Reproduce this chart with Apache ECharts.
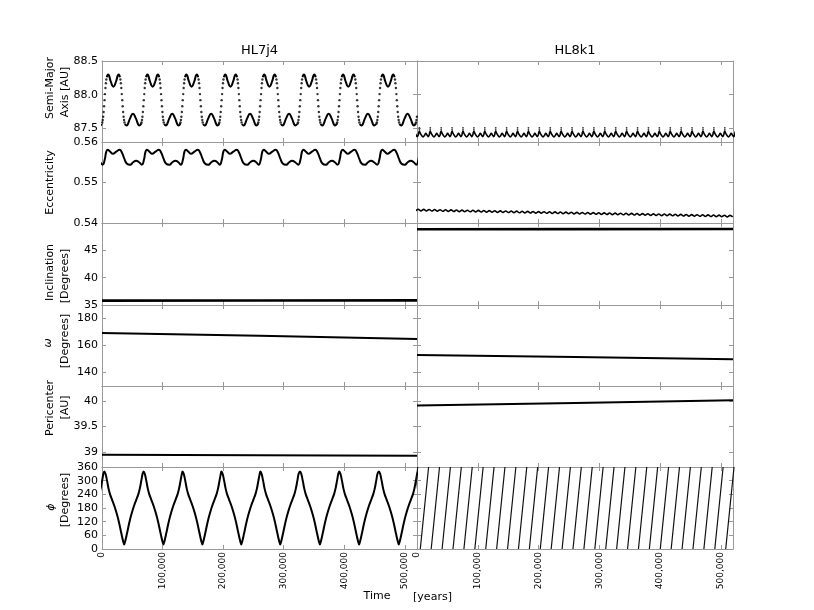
<!DOCTYPE html>
<html><head><meta charset="utf-8">
<script src="https://cdn.jsdelivr.net/npm/echarts@6/dist/echarts.min.js"></script>
<style>html,body{margin:0;padding:0;background:#fff}#c{width:814px;height:610px}</style>
</head><body><div id="c"></div>
<script>
// ================= DATA =================
const panelTitles = ['HL7j4', 'HL8k1'];
const xTicks = [0, 100000, 200000, 300000, 400000, 500000];
const xMax = 520000;

// y tick values per row
const ticksA = [87.5, 88.0, 88.5];
const ticksE = [0.54, 0.55, 0.56];
const ticksI = [35, 40, 45, 50];
const labelsI = [35, 40, 45];
const ticksW = [140, 160, 180];
const ticksQ = [39, 39.5, 40];
const ticksP = [0, 60, 120, 180, 240, 300, 360];

// HL7j4: libration cycles, times of the phi maxima (years)
const cycleL = [-60900, 3800, 68600, 132900, 197100, 261400, 326900, 391600, 457100, 521700];
// HL8k1: circulation cycles, times where phi restarts from 0 (years)
const cycleR = [-12550, 5400, 23350, 41300, 59250, 77200, 95150, 113100, 131050, 149000, 166950,
  184900, 202850, 220800, 238750, 256700, 274650, 292600, 310550, 328500, 346450, 364400,
  382350, 400300, 418250, 436200, 454150, 472100, 490050, 508000, 525950];

// HL7j4 semi-major axis within one cycle (offset from cycle time, value AU)
const aDotsUpOff = [-4100, -3350, -2600, -1850, -1100, -350, 400, 1150, 1900, 2650, 3400];
const aDotsUpVal = [87.57, 87.59, 87.625, 87.675, 87.745, 87.83, 87.92, 88.01, 88.10, 88.17, 88.225];
const aUpperOff = [4150, 5300, 6500, 8000, 10500, 15000, 19500, 22000, 23500, 24700, 25850];
const aUpperVal = [88.26, 88.29, 88.30, 88.28, 88.20, 88.12, 88.20, 88.28, 88.30, 88.29, 88.26];
const aDotsDownOff = [26600, 27350, 28100, 28850, 29600, 30350, 31100, 31850, 32600, 33350];
const aDotsDownVal = [88.225, 88.17, 88.10, 88.01, 87.92, 87.83, 87.745, 87.675, 87.625, 87.59];
const aLowerOff = [34100, 35400, 37000, 39200, 42500, 47300, 52100, 55400, 57600, 59200, 60400];
const aLowerVal = [87.57, 87.552, 87.545, 87.57, 87.65, 87.72, 87.65, 87.57, 87.545, 87.552, 87.565];

// HL7j4 eccentricity within one cycle
const eLOff = [-2850, 750, 3050, 5400, 9800, 14200, 19700, 25200, 29000, 33000, 37000, 42700, 47500, 52600, 57500];
const eLVal = [0.5544, 0.5557, 0.5575, 0.5581, 0.5576, 0.5571, 0.5576, 0.5581, 0.5574, 0.5559, 0.5547, 0.5544, 0.5550, 0.5554, 0.5550];

// HL7j4 resonant angle phi within one cycle
const phiLOff = [0, 2000, 4500, 7000, 9500, 13000, 16500, 20000, 24000, 28000, 31000, 32800,
  34600, 37600, 41600, 45600, 49100, 52600, 56100, 58600, 61100, 63200];
const phiLVal = [340, 330, 300, 265, 240, 215, 190, 160, 120, 70, 35, 20,
  35, 70, 120, 160, 190, 215, 240, 265, 300, 330];

// HL8k1 semi-major axis within one circulation cycle (offset from cycleR)
const aROff = [-2700, -1500, -300, 2000, 4500, 7000, 9000, 11000, 13000, 14900];
const aRVal = [87.435, 87.46, 87.435, 87.40, 87.375, 87.40, 87.43, 87.405, 87.38, 87.41];
const aRDotOff = -1500;
const aRDotVal = [87.48, 87.51];

// HL8k1 phi: rise from 0 to 360 takes this long (years)
const phiRSpan = 13700;

// HL8k1 eccentricity: wiggle maxima (time, value) and depth of the minima between them
const eRPeakT = [-7000, 2000, 11000, 20000, 29000, 38000, 47000, 56000, 65000, 74000, 83000, 92000,
  101000, 110000, 119000, 128000, 137000, 146000, 155000, 164000, 173000, 182000, 191000, 200000,
  209000, 218000, 227000, 236000, 245000, 254000, 263000, 272000, 281000, 290000, 299000, 308000,
  317000, 326000, 335000, 344000, 353000, 362000, 371000, 380000, 389000, 398000, 407000, 416000,
  425000, 434000, 443000, 452000, 461000, 470000, 479000, 488000, 497000, 506000, 515000];
const eRPeakV = [0.54343, 0.54340, 0.54337, 0.54335, 0.54332, 0.54329, 0.54327, 0.54324, 0.54321,
  0.54319, 0.54316, 0.54314, 0.54311, 0.54308, 0.54306, 0.54303, 0.54300, 0.54298, 0.54295,
  0.54292, 0.54290, 0.54287, 0.54284, 0.54282, 0.54279, 0.54276, 0.54274, 0.54271, 0.54268,
  0.54266, 0.54263, 0.54261, 0.54258, 0.54255, 0.54253, 0.54250, 0.54247, 0.54245, 0.54242,
  0.54239, 0.54237, 0.54234, 0.54231, 0.54229, 0.54226, 0.54223, 0.54221, 0.54218, 0.54216,
  0.54213, 0.54210, 0.54208, 0.54205, 0.54202, 0.54200, 0.54197, 0.54194, 0.54192, 0.54189];
const eRTroughOff = 4500;
const eRTroughDrop = 0.0004;

// slowly varying elements
const slowT = [0, 260000, 520000];
const inclLeft = [35.8, 35.82, 35.85];
const inclRight = [48.85, 48.88, 48.9];
const omegaLeft = [169.3, 167.2, 164.9];
const omegaRight = [152.9, 151.4, 149.8];
const periLeft = [38.94, 38.93, 38.92];
const periRight = [39.915, 39.966, 40.02];

// ================= BUILD =================
const FONT = 'DejaVu Sans';
const GRAY = '#999';
const colLeft = [102, 417], colWidth = [315, 316];
const rowTop = [61, 142, 223, 305, 386, 467], rowBottom = [142, 223, 305, 386, 467, 549];

const rows = [
  {min: 87.3, max: 88.5, ticks: ticksA, labels: ticksA, fmt: v => v.toFixed(1)},
  {min: 0.54, max: 0.56, ticks: ticksE, labels: ticksE, fmt: v => v.toFixed(2)},
  {min: 35, max: 50, ticks: ticksI, labels: labelsI, fmt: v => String(v)},
  {min: 130, max: 190, ticks: ticksW, labels: ticksW, fmt: v => String(v)},
  {min: 38.7, max: 40.3, ticks: ticksQ, labels: ticksQ, fmt: v => String(v)},
  {min: 0, max: 360, ticks: ticksP, labels: ticksP, fmt: v => String(v)}
];
const fmtX = v => String(v).replace(/\B(?=(\d{3})+(?!\d))/g, ',');

const grid = [], xAxis = [], yAxis = [];
for (let r = 0; r < 6; r++) for (let c = 0; c < 2; c++) {
  const g = r * 2 + c;
  grid.push({left: colLeft[c], top: rowTop[r], width: colWidth[c], height: rowBottom[r] - rowTop[r],
    containLabel: false, outerBoundsMode: 'none'});
  const line = {show: true, onZero: false, lineStyle: {color: GRAY, width: 1}};
  const tick = (vals) => ({show: true, inside: true, length: 4, customValues: vals, lineStyle: {color: GRAY, width: 1}});
  ['bottom', 'top'].forEach(pos => xAxis.push({
    gridIndex: g, type: 'value', min: 0, max: xMax, position: pos,
    axisLine: line, axisTick: tick(xTicks), splitLine: {show: false},
    axisLabel: {show: pos === 'bottom' && r === 5, customValues: xTicks, rotate: 90, fontSize: 9,
      margin: 3, color: '#000', fontFamily: FONT, formatter: fmtX}
  }));
  const rw = rows[r];
  ['left', 'right'].forEach(pos => yAxis.push({
    gridIndex: g, type: 'value', min: rw.min, max: rw.max, position: pos,
    axisLine: line, axisTick: tick(rw.ticks), splitLine: {show: false},
    axisLabel: {show: pos === 'left' && c === 0, customValues: rw.labels, fontSize: 11, margin: 4,
      color: '#000', fontFamily: FONT, formatter: rw.fmt}
  }));
}

function cyc(starts, offs, vals) {
  const out = [];
  starts.forEach(s => offs.forEach((o, i) => out.push([s + o, vals[i]])));
  return out;
}
function merge2(starts, offA, valA, offB, valB) {
  const out = [];
  starts.forEach(s => {
    offA.forEach((o, i) => out.push([s + o, valA[i]]));
    out.push([s + offA[offA.length - 1] + 1, '-']);
    offB.forEach((o, i) => out.push([s + o, valB[i]]));
    out.push([s + offB[offB.length - 1] + 1, '-']);
  });
  return out;
}

const aPlateau = merge2(cycleL, aUpperOff, aUpperVal, aLowerOff, aLowerVal);
const aDots = cyc(cycleL, aDotsUpOff, aDotsUpVal).concat(cyc(cycleL, aDotsDownOff, aDotsDownVal));
const eccL = cyc(cycleL, eLOff, eLVal);
const phiL = cyc(cycleL, phiLOff, phiLVal);
const aRLine = cyc(cycleR, aROff, aRVal);
const aRDots = [];
cycleR.forEach(s => aRDotVal.forEach(v => aRDots.push([s + aRDotOff, v])));
const phiR = [];
cycleR.forEach(s => { phiR.push([s, 0]); phiR.push([s + phiRSpan, 360]); phiR.push([s + phiRSpan + 1, '-']); });
const eccR = [];
eRPeakT.forEach((t, i) => { eccR.push([t, eRPeakV[i]]); eccR.push([t + eRTroughOff, eRPeakV[i] - eRTroughDrop]); });
const slow = arr => slowT.map((t, i) => [t, arr[i]]);

function lineS(g, data, width, smooth, color) {
  return {type: 'line', xAxisIndex: 2 * g, yAxisIndex: 2 * g, data, showSymbol: false, symbol: 'none',
    smooth: smooth, connectNulls: false, clip: true, animation: false,
    lineStyle: {color: color || '#000', width}, emphasis: {disabled: true}};
}
function dotS(g, data, size) {
  return {type: 'scatter', xAxisIndex: 2 * g, yAxisIndex: 2 * g, data, symbol: 'circle', symbolSize: size,
    itemStyle: {color: '#000'}, clip: true, animation: false, emphasis: {disabled: true}};
}

const series = [
  lineS(0, aPlateau, 2, 0.5), dotS(0, aDots, 2.4),
  lineS(1, aRLine, 1.6, 0.4), dotS(1, aRDots, 1.8),
  lineS(2, eccL, 2, 0.5),
  lineS(3, eccR, 1.6, 0.3),
  lineS(4, slow(inclLeft), 2.6, false),
  lineS(5, slow(inclRight), 2.6, false),
  lineS(6, slow(omegaLeft), 2, false),
  lineS(7, slow(omegaRight), 2, false),
  lineS(8, slow(periLeft), 2, false),
  lineS(9, slow(periRight), 2, false),
  lineS(10, phiL, 2, 0.4),
  lineS(11, phiR, 1.2, false, '#111')
];

function txt(text, x, y, size, rot, italic) {
  return {type: 'text', x, y, rotation: rot || 0, silent: true,
    style: {text, fontSize: size, fontFamily: FONT, fontStyle: italic ? 'italic' : 'normal', fill: '#000',
      textAlign: 'center', align: 'center', textVerticalAlign: 'middle', verticalAlign: 'middle'}};
}
const R = Math.PI / 2;
const graphic = [
  txt(panelTitles[0], 259.5, 51, 13), txt(panelTitles[1], 575, 51, 13),
  txt('Semi-Major', 50, 88, 11, R), txt('Axis [AU]', 65, 92, 11, R),
  txt('Eccentricity', 50, 182.5, 11, R),
  txt('Inclination', 50, 272.5, 11, R), txt('[Degrees]', 65, 276, 11, R),
  txt('ω', 48, 343, 11, R, true), txt('[Degrees]', 65, 341, 11, R),
  txt('Pericenter', 50, 408, 11, R), txt('[AU]', 65, 407.5, 11, R),
  txt('ϕ', 51, 507, 11, R, true), txt('[Degrees]', 65, 500, 11, R),
  txt('Time', 377, 596, 11), txt('[years]', 432.5, 597, 11)
];

const chart = echarts.init(document.getElementById('c'), null, {renderer: 'canvas'});
chart.setOption({animation: false, backgroundColor: '#fff', grid, xAxis, yAxis, series, graphic});
</script></body></html>
